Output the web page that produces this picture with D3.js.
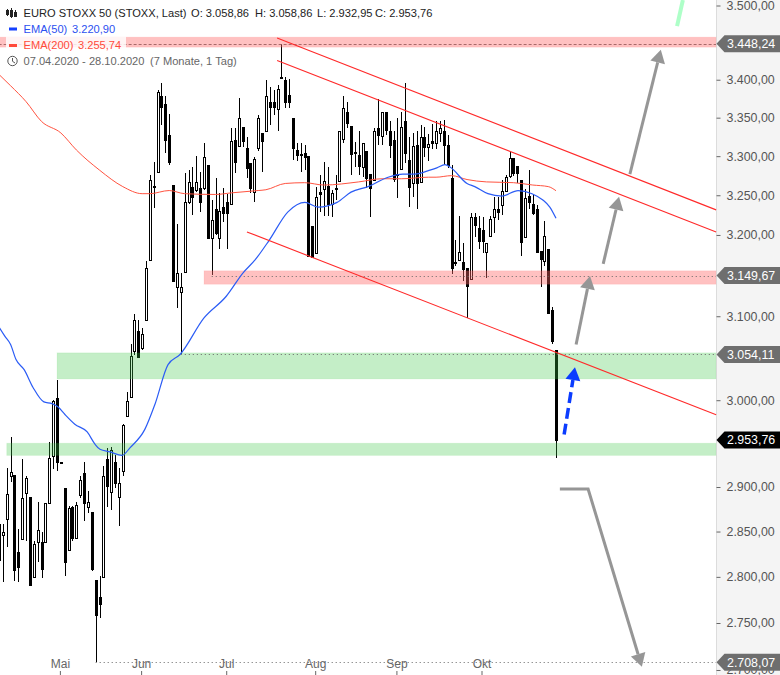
<!DOCTYPE html>
<html><head><meta charset="utf-8">
<script src="https://cdn.jsdelivr.net/npm/d3@7"></script>
<style>
html,body{margin:0;padding:0;background:#fff;overflow:hidden}
svg{display:block;font-family:"Liberation Sans",Arial,sans-serif}
</style></head><body><svg id="c" width="780" height="675"></svg>
<script>
const opens=[2819,2846,2864,2912,2914,2827,2842,2893,2889,2800,
2838,2838,2838,2882,2935,3003,2928,2899,2829,2877,
2843,2891,2916,2878,2872,2797,2778,2800,2932,2894,
2928,2889,2918,2982,3004,3058,3082,3062,3095,3169,
3262,3280,3379,3368,3328,3263,3135,3130,3154,3241,
3261,3257,3259,3259,3289,3196,3233,3196,3235,3241,
3239,3321,3313,3338,3311,3291,3254,3311,3330,3332,
3371,3371,3362,3404,3400,3380,3350,3308,3303,3304,
3300,3211,3177,3254,3258,3262,3239,3259,3268,3322,
3358,3339,3305,3301,3286,3307,3277,3270,3336,3326,
3357,3333,3321,3277,3284,3345,3295,3266,3314,3267,
3325,3312,3320,3317,3330,3333,3314,3272,3166,3169,
3166,3159,3145,3223,3209,3206,3179,3199,3223,3233,
3238,3256,3275,3297,3287,3270,3198,3249,3239,3233,
3180,3167,3182,3108,3058.86];
const highs=[2858,2858,2922,2957,2914,2853,2932,2912,2889,2839,
2883,2849,2882,2952,3000,3024,2928,2899,2879,2879,
2883,2912,2928,2896,2872,2797,2801,2924,2945,2946,
2937,2922,2972,3010,3067,3103,3096,3086,3168,3276,
3292,3387,3395,3378,3355,3263,3214,3153,3278,3282,
3286,3300,3280,3317,3289,3244,3272,3253,3259,3251,
3336,3336,3376,3338,3325,3291,3299,3354,3330,3400,
3391,3387,3393,3448.24,3403,3401,3350,3317,3317,3314,
3300,3211,3261,3276,3292,3286,3257,3276,3332,3378,
3370,3339,3318,3332,3317,3307,3277,3337,3374,3357,
3357,3345,3332,3350,3357,3396,3325,3330,3332,3341,
3338,3329,3342,3346,3346,3347,3328,3289,3194,3224,
3190,3159,3228,3228,3224,3223,3190,3224,3248,3248,
3270,3276,3305,3297,3287,3270,3258,3282,3251,3238,
3180,3218,3182,3111,3058.86];
const lows=[2819,2794,2833,2906,2796,2794,2842,2839,2791,2800,
2816,2799,2838,2882,2921,2918,2928,2801,2829,2840,
2843,2888,2862,2871,2806,2708.07,2755,2800,2877,2874,
2899,2856,2913,2980,3004,3054,3051,3059,3095,3169,
3234,3280,3341,3304,3289,3143,3110,3054.11,3154,3239,
3225,3254,3229,3257,3196,3150,3200,3183,3216,3182,
3239,3278,3313,3312,3272,3253,3242,3307,3280,3332,
3341,3354,3333,3401,3363,3363,3295,3294,3280,3282,
3174,3173,3177,3229,3224,3224,3222,3244,3268,3317,
3336,3276,3286,3276,3273,3259,3222,3270,3314,3314,
3328,3297,3267,3247,3284,3291,3235,3248,3232,3267,
3299,3294,3309,3309,3318,3289,3285,3151,3161,3169,
3143,3098,3145,3198,3182,3178,3147,3199,3203,3219,
3225,3254,3272,3275,3266,3174,3198,3232,3225,3178,
3136,3162,3104,3066,2932.95];
const closes=[2858,2850,2892,2917,2807,2811,2888,2910,2791,2836,
2852,2809,2882,2933,2999,2928,2928,2816,2876,2843,
2880,2908,2882,2883,2809,2759,2770,2912,2901,2942,
2905,2905,2971,2999,3052,3095,3051,3078,3159,3270,
3261,3384,3364,3321,3292,3143,3153,3136,3242,3267,
3248,3267,3242,3299,3196,3219,3203,3230,3228,3228,
3320,3292,3350,3320,3285,3259,3296,3350,3320,3378,
3364,3364,3388,3403,3370,3371,3311,3301,3302,3299,
3174,3173,3248,3252,3268,3239,3253,3258,3332,3363,
3343,3303,3304,3287,3317,3272,3259,3332,3328,3357,
3334,3314,3271,3276,3338,3304,3261,3313,3266,3325,
3312,3316,3317,3332,3337,3314,3289,3159,3165,3179,
3158,3137,3223,3213,3193,3193,3190,3220,3233,3229,
3256,3273,3297,3278,3278,3191,3246,3242,3227,3179,
3170,3199,3104,3070,2953.76];

const ema50Index=[0,1.5,3,4.4,6.5,8.8,11.6,13.7,15.3,17.1,19.6,22.8,24.8,26.1,28.7,31.8,33.9,37.7,40.3,43.7,46.8,53,58.7,63.1,66.2,69.8,74.7,79.1,82.5,87.4,91,95.4,100.6,104.4,107.5,111.4,113.2,115.3,116.6,121,123,126.4,130,134.2,137.8,140.6,142.4,144];
const ema50Values=[3087,3076,3066,3048,3036,3015,2998,2996,2992,2983,2972,2963,2949,2943,2940,2936,2945,2966,2995,3042,3054,3098,3124,3153,3169,3193,3229,3241,3235,3241,3254,3261,3273,3277,3277,3282,3285,3289,3286,3265,3261,3252,3249,3256,3252,3244,3235,3220.9];
const ema200Index=[0,3,7,11,16,20,26,32,37,39,44,48,56,60,67,69,74,79,84,93,99,104,111,113,117,121,126,133,138,142,144];
const ema200Values=[3407,3392,3371,3345,3330,3308,3282,3261,3252,3252,3256,3252,3251,3253,3256,3257,3265,3266,3263,3267,3271,3271,3273,3273,3275,3270,3267,3266,3263,3261,3255.74];

const priceTicks=[3500,3400,3350,3300,3250,3200,3100,3000,2900,2850,2800,2750,2700];
const monthNames=["Mai","Jun","Jul","Aug","Sep","Okt"];
const monthIndex=[16,37,59,82,103,125];

const zoneTop=[3457,3155.5,3056,2950];
const zoneBottom=[3443.5,3139,3025,2936];
const zoneStart=[-0.1,53,15,2];
const zoneColor=["red","red","green","green"];
const levelValues=[3448.24,3149.67,3054.11,2708.07];
const levelStart=[-0.1,55,47,25];
const levelDash=["3,2","1,3","1,3","1,3"];
const tagValues=[3448.24,3149.67,3054.11,2953.76,2708.07];
const tagColors=["#6e6e6e","#6e6e6e","#6e6e6e","#000","#6e6e6e"];

const trendLines=[[[71.9,3455.9],[185.4,3231.5]],[[71.9,3425.7],[185.4,3203.8]],[[64.1,3203.8],[185.4,2982.9]]];
const grayArrows=[[[149.2,3066],[152.8,3149]],[[156.2,3164],[160.3,3248]],[[163.1,3277],[171.1,3440]],[[145,2897.8],[152.3,2897.8],[166.2,2703.5]]];
const blueArrow=[[146.1,2960],[148.9,3039]];
const greenStroke=[[175.3,3472],[176.8,3507.5]];

const W=780,H=675,plotR=716;
const x=d3.scaleLinear().domain([0,144]).range([-1,556]);
const y=d3.scaleLog().domain([2750,3500]).range([623,5.5]);
const fmt=d3.formatLocale({decimal:",",thousands:".",grouping:[3],currency:["",""]}).format(",.2f");
const svg=d3.select("#c");
const px=i=>Math.round(x(i));
const py=p=>Math.round(y(p));

// panel
svg.append("rect").attr("x",plotR).attr("y",0).attr("width",W-plotR).attr("height",H).attr("fill","#f4f4f4");
svg.append("line").attr("x1",plotR+.5).attr("x2",plotR+.5).attr("y1",0).attr("y2",H).attr("stroke","#dcdcdc");

// candles
const idx=d3.range(opens.length);
const cg=svg.append("g").attr("shape-rendering","crispEdges");
cg.selectAll("line").data(idx).join("line")
  .attr("x1",i=>px(i)+.5).attr("x2",i=>px(i)+.5)
  .attr("y1",i=>py(highs[i])).attr("y2",i=>py(lows[i]))
  .attr("stroke","#000");
cg.selectAll("rect").data(idx).join("rect")
  .attr("x",i=>px(i)-.5).attr("width",2)
  .attr("y",i=>py(Math.max(opens[i],closes[i]))+.5)
  .attr("height",i=>Math.max(1,py(Math.min(opens[i],closes[i]))-py(Math.max(opens[i],closes[i]))))
  .attr("fill",i=>closes[i]>opens[i]?"#fff":"#000")
  .attr("stroke","#000");

// zones
const zoneFill={red:"rgba(255,100,100,.4)",green:"rgba(60,200,70,.3)"};
const zoneEdge={red:"rgba(255,100,100,.1)",green:"rgba(60,200,70,.08)"};
svg.append("g").selectAll("rect").data(zoneTop).join("rect")
  .attr("x",(d,i)=>x(zoneStart[i]))
  .attr("y",d=>y(d))
  .attr("width",(d,i)=>plotR-x(zoneStart[i]))
  .attr("height",(d,i)=>y(zoneBottom[i])-y(d))
  .attr("fill",(d,i)=>zoneFill[zoneColor[i]])
  .attr("stroke",(d,i)=>zoneEdge[zoneColor[i]]);

// level lines
svg.append("g").selectAll("line").data(levelValues).join("line")
  .attr("x1",(d,i)=>x(levelStart[i])).attr("x2",plotR)
  .attr("y1",d=>py(d)+.5).attr("y2",d=>py(d)+.5)
  .attr("stroke",(d,i)=>i==0?"#a86a6a":"#666").attr("stroke-dasharray",(d,i)=>levelDash[i]);

// EMAs
const emaLine=(ix,vals)=>d3.line().x(d=>x(d)).y((d,i)=>y(vals[i])).curve(d3.curveMonotoneX)(ix);
svg.append("path").attr("d",emaLine(ema200Index,ema200Values)).attr("fill","none").attr("stroke","#ff5340").attr("stroke-width",1);
svg.append("path").attr("d",emaLine(ema50Index,ema50Values)).attr("fill","none").attr("stroke","#2b5cf5").attr("stroke-width",1.2);

// trend lines
const pl=d3.line().x(d=>x(d[0])).y(d=>y(d[1]));
svg.append("g").selectAll("path").data(trendLines).join("path").attr("d",pl).attr("fill","none").attr("stroke","#ff2a2a").attr("stroke-width",1.1);

// arrows
function arrow(pts,color,w,dash,hl,hw){
  const n=pts.length,a=pts[n-2],b=pts[n-1];
  const bx=x(b[0]),by=y(b[1]),ax=x(a[0]),ay=y(a[1]);
  const len=Math.hypot(bx-ax,by-ay),ux=(bx-ax)/len,uy=(by-ay)/len;
  const bsx=bx-ux*hl,bsy=by-uy*hl;
  const coords=pts.map((p,i)=>i==n-1?[bsx,bsy]:[x(p[0]),y(p[1])]);
  const p=svg.append("path").attr("d",d3.line()(coords)).attr("fill","none").attr("stroke",color).attr("stroke-width",w);
  if(dash)p.attr("stroke-dasharray",dash);
  svg.append("path").attr("d",d3.line()([[bx,by],[bsx-uy*hw/2,bsy+ux*hw/2],[bsx+uy*hw/2,bsy-ux*hw/2]])+"Z").attr("fill",color);
}
grayArrows.forEach(a=>arrow(a,"#969696",3,null,13,15));
arrow(blueArrow,"#0b3cff",3.5,"11,5",13,15);
svg.append("path").attr("d",d3.line().x(d=>x(d[0])).y(d=>y(d[1]))(greenStroke)).attr("stroke","#aeffc8").attr("stroke-width",4).attr("fill","none");

// y axis
const axis=svg.append("g").attr("transform",`translate(${plotR+.5},0)`)
  .call(d3.axisRight(y).tickValues(priceTicks).tickFormat(fmt).tickSize(4).tickPadding(6));
axis.select(".domain").remove();
axis.selectAll("line").attr("stroke","#666");
axis.selectAll("text").attr("fill","#555").attr("font-size",12.4).attr("font-family","Liberation Sans");

// tags
const tags=svg.append("g").selectAll("g").data(tagValues).join("g").attr("transform",d=>`translate(0,${y(d)})`);
tags.append("path").attr("d",`M${plotR+.5},0L${plotR+8.5},-8.5L${W},-8.5L${W},8.5L${plotR+8.5},8.5Z`).attr("fill",(d,i)=>tagColors[i]);
tags.append("text").attr("x",727).attr("dy","0.35em").attr("fill","#fff").attr("font-size",12.4).text(d=>fmt(d));

// x axis
const xAxis=svg.append("g").attr("transform","translate(0,671)")
  .call(d3.axisBottom(x).tickValues(monthIndex).tickFormat((d,i)=>monthNames[i]).tickSize(4).tickPadding(0));
xAxis.select(".domain").remove();
xAxis.selectAll("line").attr("stroke","#666");
xAxis.selectAll("text").attr("fill","#666").attr("font-size",12).attr("y",-3).attr("dy",0);
xAxis.selectAll("g").attr("transform",function(){const m=/translate\(([-\d.]+)/.exec(this.getAttribute("transform")||"");return m?`translate(${+m[1]-1},0)`:null;});

// legend
const leg=svg.append("g");
leg.append("rect").attr("x",6).attr("y",36.5).attr("width",120).attr("height",12).attr("fill","rgba(255,255,255,.82)");
const txt=(xp,yp,s,c)=>leg.append("text").attr("x",xp).attr("y",yp).attr("fill",c).attr("font-size",11.1).text(s);
txt(23.5,17,"EURO STOXX 50 (STOXX, Last)","#222");
txt(191,17,"O: 3.058,86","#222");
txt(255,17,"H: 3.058,86","#222");
txt(317,17,"L: 2.932,95","#222");
txt(375,17,"C: 2.953,76","#222");
txt(23.5,33,"EMA(50)","#2b50f0"); txt(72,33,"3.220,90","#2b50f0");
txt(23.5,49,"EMA(200)","#ff4a3a"); txt(78,49,"3.255,74","#ff4a3a");
txt(23.5,65,"07.04.2020 - 28.10.2020","#666"); txt(150,65,"(7 Monate, 1 Tag)","#666");
leg.append("rect").attr("x",9).attr("y",27.5).attr("width",8).attr("height",3).attr("fill","#1540ff");
leg.append("rect").attr("x",9).attr("y",44).attr("width",8).attr("height",3).attr("fill","#ff4a3a");
// clock icon
leg.append("circle").attr("cx",12.5).attr("cy",61).attr("r",4.7).attr("fill","none").attr("stroke","#555").attr("stroke-width",1);
leg.append("path").attr("d","M12.5,58V61.3L15,63").attr("fill","none").attr("stroke","#555");
// candle icon
const ic=leg.append("g").attr("stroke","#222").attr("fill","none").attr("shape-rendering","crispEdges");
[[7,9,16,10,14],[11,8,18,10,16],[15,10,17,12,16]].forEach(d=>{
  ic.append("line").attr("x1",d[0]+.5).attr("x2",d[0]+.5).attr("y1",d[1]).attr("y2",d[2]);
  ic.append("rect").attr("x",d[0]-.5).attr("y",d[3]+.5).attr("width",2).attr("height",d[4]-d[3]);
});
</script></body></html>
